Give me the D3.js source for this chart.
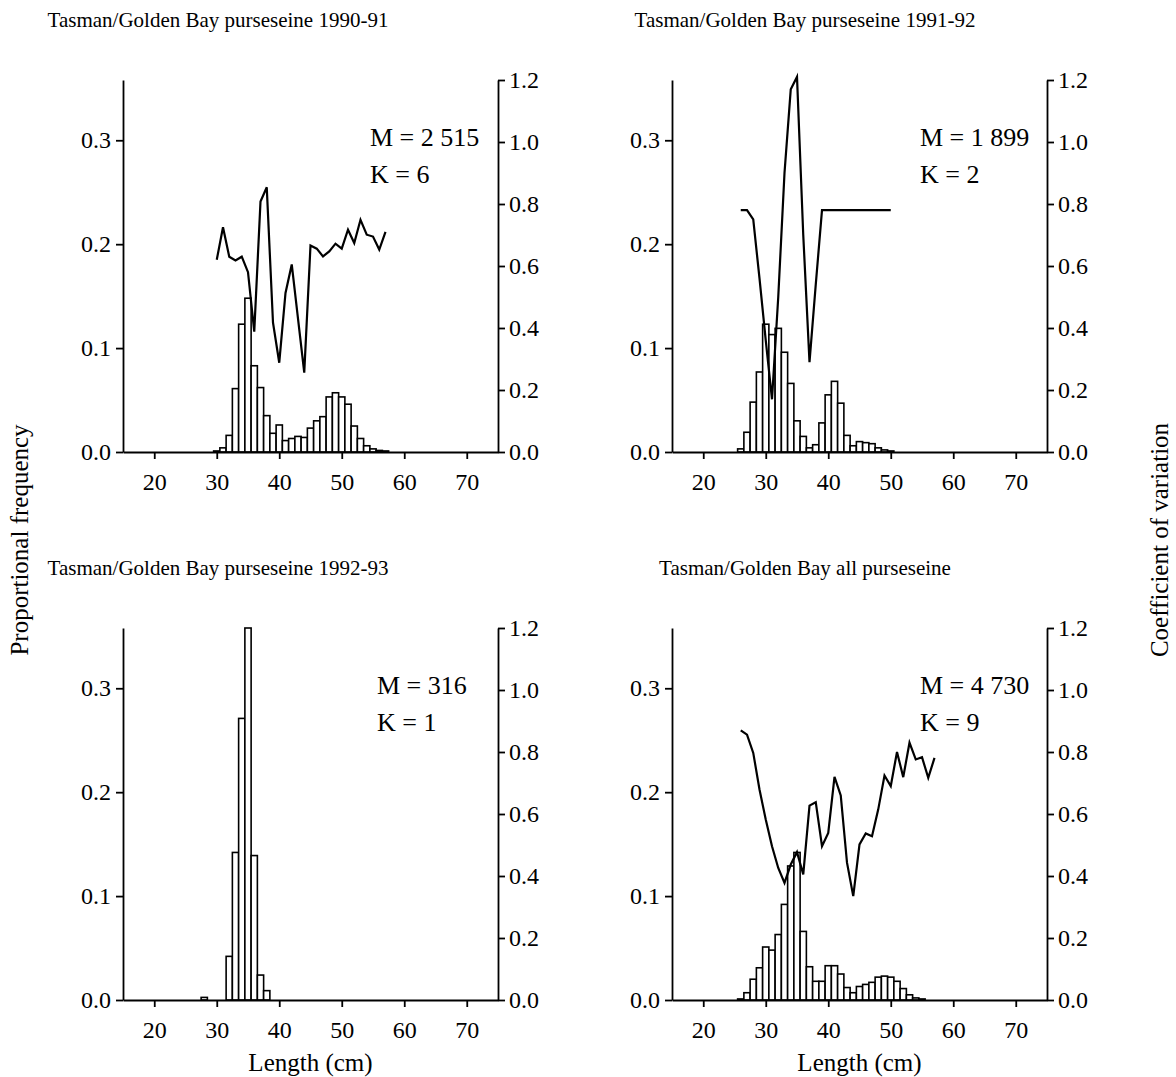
<!DOCTYPE html>
<html>
<head>
<meta charset="utf-8">
<script src="https://cdn.jsdelivr.net/npm/d3@7"></script>
<style>
  body { margin: 0; background: #fff; }
  svg text { font-family: "Liberation Serif", "DejaVu Serif", serif; fill: #000; }
  .axis path, .axis line { stroke: #000; stroke-width: 1.8; }
</style>
</head>
<body>
<svg id="chart" width="1176" height="1077"></svg>
<script>
// ---- data ----
var titles = ["Tasman/Golden Bay purseseine 1990-91",
              "Tasman/Golden Bay purseseine 1991-92",
              "Tasman/Golden Bay purseseine 1992-93",
              "Tasman/Golden Bay all purseseine"];
var mLabels = ["2 515", "1 899", "316", "4 730"];
var kLabels = ["6", "2", "1", "9"];

// first length class (cm) of each series
var freqStart = [30, 26, 28, 26];
var cvStart = [30, 26, null, 26];

var freq9091 = [0.001, 0.004, 0.016, 0.061, 0.123, 0.148, 0.083, 0.062, 0.035, 0.018,
                0.026, 0.011, 0.013, 0.015, 0.014, 0.023, 0.030, 0.034, 0.053, 0.057,
                0.053, 0.046, 0.025, 0.013, 0.006, 0.003, 0.0015, 0.001];
var cv9091 = [0.62, 0.725, 0.63, 0.618, 0.63, 0.58, 0.388, 0.808, 0.854, 0.417,
              0.288, 0.513, 0.605, 0.43, 0.256, 0.666, 0.656, 0.631, 0.647, 0.672,
              0.656, 0.717, 0.674, 0.749, 0.701, 0.695, 0.653, 0.71];

var freq9192 = [0.003, 0.019, 0.048, 0.077, 0.123, 0.113, 0.119, 0.096, 0.066, 0.030,
                0.015, 0.004, 0.007, 0.028, 0.055, 0.068, 0.047, 0.016, 0.006, 0.010,
                0.009, 0.008, 0.004, 0.002, 0.001];
var cv9192 = [0.78, 0.78, 0.75, 0.56, 0.36, 0.17, 0.50, 0.90, 1.17, 1.21,
              0.70, 0.29, 0.54, 0.78, 0.78, 0.78, 0.78, 0.78, 0.78, 0.78,
              0.78, 0.78, 0.78, 0.78, 0.78];

var freq9293 = [0.0025, 0, 0, 0, 0.042, 0.142, 0.271, 0.358, 0.139, 0.024, 0.009];

var freqAll = [0.001, 0.007, 0.020, 0.031, 0.051, 0.048, 0.063, 0.092, 0.129, 0.142,
               0.066, 0.032, 0.018, 0.018, 0.033, 0.033, 0.025, 0.012, 0.007, 0.013,
               0.015, 0.017, 0.022, 0.023, 0.022, 0.018, 0.011, 0.005, 0.002, 0.001];
var cvAll = [0.870, 0.856, 0.797, 0.679, 0.582, 0.496, 0.426, 0.378, 0.437, 0.477,
             0.405, 0.627, 0.638, 0.496, 0.539, 0.720, 0.660, 0.443, 0.335, 0.502,
             0.537, 0.528, 0.615, 0.724, 0.690, 0.80, 0.719, 0.830, 0.776, 0.783,
             0.717, 0.781];

var freqs = [freq9091, freq9192, freq9293, freqAll];
var cvs = [cv9091, cv9192, null, cvAll];

var lengthTicks = [20, 30, 40, 50, 60, 70];
var freqTicks = [0.0, 0.1, 0.2, 0.3];
var cvTicks = [0.0, 0.2, 0.4, 0.6, 0.8, 1.0, 1.2];

// ---- layout ----
var panelW = 375, panelH = 372;
var panelLeft = [123, 672, 123, 672];
var panelTop = [80, 80, 628, 628];
var textX = [370, 920, 377, 920];
var titleX = [218, 805, 218, 805];

var svg = d3.select("#chart");

function drawPanel(i) {
  var x0 = panelLeft[i], y0 = panelTop[i];

  var x = d3.scaleLinear().domain([15, 75]).range([x0, x0 + panelW]);
  var yF = d3.scaleLinear().domain([0, 0.358]).range([y0 + panelH, y0]);
  var yC = d3.scaleLinear().domain([0, 1.2]).range([y0 + panelH, y0]);

  var g = svg.append("g");

  var bars = freqs[i].map(function(v, j) { return {len: freqStart[i] + j, v: v}; })
                     .filter(function(d) { return d.v > 0; });

  g.selectAll("rect")
   .data(bars)
   .enter()
   .append("rect")
   .attr("x", function(d) { return x(d.len - 0.5); })
   .attr("y", function(d) { return yF(d.v); })
   .attr("width", function(d) { return x(d.len + 0.5) - x(d.len - 0.5); })
   .attr("height", function(d) { return yF(0) - yF(d.v); })
   .style("fill", "#fff")
   .style("stroke", "#000")
   .style("stroke-width", 1.6);

  if (cvs[i]) {
    var pts = cvs[i].map(function(v, j) { return [cvStart[i] + j, v]; });
    var line = d3.line()
                 .x(function(d) { return x(d[0]); })
                 .y(function(d) { return yC(d[1]); });
    g.append("path")
     .attr("d", line(pts))
     .style("fill", "none")
     .style("stroke", "#000")
     .style("stroke-width", 2.2);
  }

  g.append("g")
   .attr("class", "axis")
   .attr("transform", "translate(0," + (y0 + panelH) + ")")
   .call(d3.axisBottom(x).tickValues(lengthTicks).tickSize(7).tickSizeOuter(0).tickPadding(14));

  g.append("g")
   .attr("class", "axis")
   .attr("transform", "translate(" + x0 + ",0)")
   .call(d3.axisLeft(yF).tickValues(freqTicks).tickFormat(d3.format(".1f")).tickSize(7).tickSizeOuter(0).tickPadding(5));

  g.append("g")
   .attr("class", "axis")
   .attr("transform", "translate(" + (x0 + panelW) + ",0)")
   .call(d3.axisRight(yC).tickValues(cvTicks).tickFormat(d3.format(".1f")).tickSize(7).tickSizeOuter(0).tickPadding(4));

  g.selectAll(".axis text")
   .style("font-size", "24px")
   .style("font-family", "Liberation Serif, serif");

  svg.append("text")
     .attr("x", titleX[i])
     .attr("y", y0 - 53)
     .attr("text-anchor", "middle")
     .style("font-size", "21px")
     .text(titles[i]);

  svg.append("text")
     .attr("x", textX[i])
     .attr("y", y0 + 66)
     .style("font-size", "26px")
     .text("M = " + mLabels[i]);

  svg.append("text")
     .attr("x", textX[i])
     .attr("y", y0 + 103)
     .style("font-size", "26px")
     .text("K = " + kLabels[i]);
}

for (var i = 0; i < 4; i++) drawPanel(i);

svg.append("text")
   .attr("transform", "translate(28,540) rotate(-90)")
   .attr("text-anchor", "middle")
   .style("font-size", "25px")
   .text("Proportional frequency");

svg.append("text")
   .attr("transform", "translate(1168,540) rotate(-90)")
   .attr("text-anchor", "middle")
   .style("font-size", "25px")
   .text("Coefficient of variation");

[0, 1].forEach(function(c) {
  svg.append("text")
     .attr("x", panelLeft[c] + panelW / 2)
     .attr("y", 1071)
     .attr("text-anchor", "middle")
     .style("font-size", "25px")
     .text("Length (cm)");
});
</script>
</body>
</html>
